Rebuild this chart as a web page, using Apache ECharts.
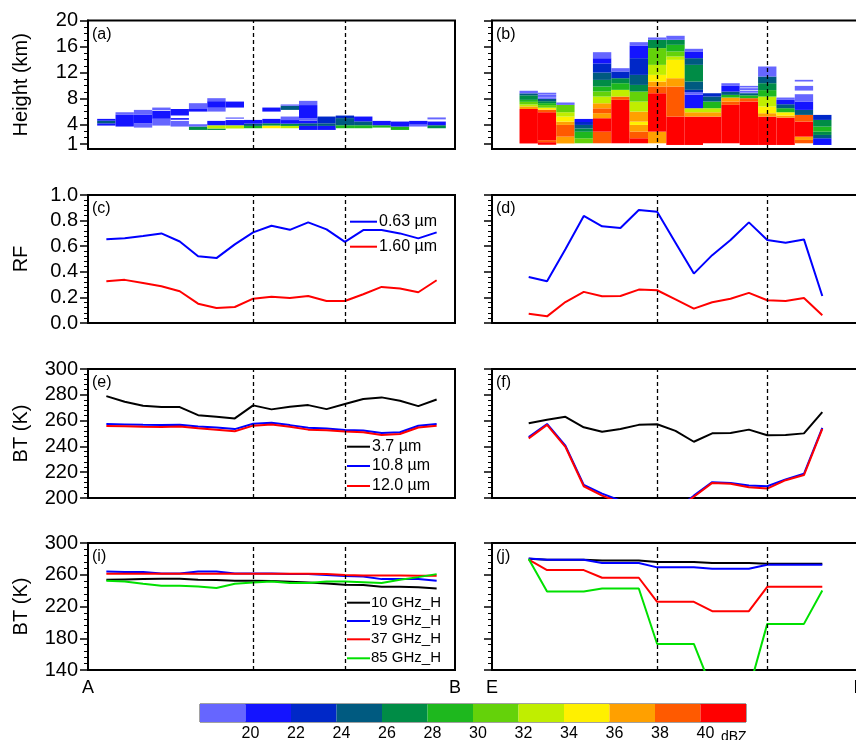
<!DOCTYPE html>
<html>
<head>
<meta charset="utf-8">
<script src="https://cdn.jsdelivr.net/npm/echarts@6/dist/echarts.min.js"></script>
<style>
  html, body { margin: 0; padding: 0; background: #fff; }
  #main { width: 856px; height: 740px; }
</style>
</head>
<body>
<div id="main"></div>
<script>
// ---------- data ----------
var dbzColors = ['#6666ff', '#1414ff', '#0028c8', '#005a80', '#008c46', '#1eb81e',
                 '#64d20a', '#c0ee00', '#fff000', '#ffa000', '#ff5a00', '#ff0000'];
var dbzEdges = [18, 20, 22, 24, 26, 28, 30, 32, 34, 36, 38, 40, 42];
var dbzLabels = [20, 22, 24, 26, 28, 30, 32, 34, 36, 38, 40];

var heightTicks = [1, 4, 8, 12, 16, 20];
var heightLabels = [4, 8, 12, 16, 20];
var heightLowLabel = [1];
var heightMinor = [2, 3, 5, 6, 7, 9, 10, 11, 13, 14, 15, 17, 18, 19];
var mwTicks = [140, 180, 220, 260, 300];
var mwMinor = [148, 156, 164, 172, 188, 196, 204, 212, 228, 236, 244, 252, 268, 276, 284, 292];

// profile cells: [column, bottom km, top km, colour class]
var profileA = [
  [0,3.85,4.2,1],[0,4.2,4.6,3],[0,4.6,4.88,1],
  [1,3.7,5.5,1],[1,5.5,5.9,0],
  [2,3.54,4.21,0],[2,4.21,5.5,1],[2,5.5,6.26,0],
  [3,3.85,4.9,0],[3,4.9,6.1,1],[3,6.2,6.62,0],
  [4,3.7,4.57,0],[4,4.75,5.0,1],[4,5.4,6.4,1],
  [5,3.18,3.7,4],[5,3.7,4.06,0],[5,6.0,6.5,1],[5,6.5,7.29,0],
  [6,3.18,3.4,4],[6,3.4,3.9,7],[6,3.9,4.57,1],[6,6.0,6.6,0],[6,6.6,7.6,1],[6,7.6,8.06,0],
  [7,3.4,3.9,7],[7,3.9,4.7,1],[7,4.9,5.1,0],[7,6.62,7.54,1],
  [8,3.44,3.8,5],[8,3.8,4.15,3],[8,4.15,4.72,1],
  [9,3.44,3.85,8],[9,3.85,4.2,4],[9,4.2,4.88,1],[9,6.0,6.62,1],
  [10,3.44,3.8,7],[10,3.8,4.15,4],[10,4.15,4.7,1],[10,4.7,5.24,0],[10,6.26,6.9,3],[10,6.9,7.1,0],
  [11,3.18,3.8,1],[11,3.8,4.2,3],[11,4.2,4.6,1],[11,4.6,5.0,0],[11,5.0,7.0,1],[11,7.0,7.65,0],
  [12,3.18,3.8,1],[12,3.8,4.2,3],[12,4.2,5.24,2],
  [13,3.44,3.9,5],[13,3.9,5.0,3],[13,5.0,5.39,2],
  [14,3.44,3.9,5],[14,3.9,4.5,3],[14,4.5,5.24,1],
  [15,3.54,3.9,5],[15,3.9,4.57,1],
  [16,3.18,3.7,5],[16,3.7,4.47,1],
  [17,3.7,4.0,0],[17,4.0,4.57,1],
  [18,3.44,3.9,4],[18,3.9,4.47,1],[18,4.8,5.1,0]
];
var profileB = [
  [0,1.1,6.4,11],[0,6.4,6.8,9],[0,6.8,7.1,7],[0,7.1,7.5,6],[0,7.5,7.8,5],[0,7.8,8.5,4],[0,8.5,8.8,3],[0,8.8,9.2,0],
  [1,0.9,1.3,11],[1,1.3,1.6,10],[1,1.6,5.9,11],[1,5.9,6.3,10],[1,6.3,6.6,8],[1,6.6,7.0,6],[1,7.0,7.3,5],[1,7.3,7.6,4],[1,7.6,7.95,3],[1,7.95,8.2,0],[1,8.3,8.5,1],[1,8.6,8.9,0],
  [2,1.1,2.15,9],[2,2.15,3.95,10],[2,3.95,4.46,9],[2,4.46,5.23,8],[2,5.23,5.9,7],[2,5.9,7.03,6],[2,7.03,7.4,0],
  [3,1.13,1.9,6],[3,1.9,2.9,5],[3,2.9,3.4,4],[3,3.4,3.95,3],[3,3.95,4.4,2],[3,4.4,4.87,1],
  [4,1.13,2.92,10],[4,2.92,4.98,11],[4,4.98,5.75,9],[4,5.75,6.5,10],[4,6.5,7.28,9],[4,7.28,8.31,7],[4,8.31,9.1,6],[4,9.1,9.85,5],[4,9.85,10.87,4],[4,10.87,12.0,3],[4,12.0,13.4,2],[4,13.4,14.2,1],[4,14.2,15.13,0],
  [5,1.13,7.8,11],[5,7.8,8.31,10],[5,8.31,9.34,7],[5,9.34,10.36,5],[5,10.36,11.13,4],[5,11.13,12.16,2],[5,12.16,12.67,0],
  [6,1.13,1.9,11],[6,1.9,2.92,10],[6,2.92,3.95,9],[6,3.95,4.46,8],[6,4.46,6.0,9],[6,6.0,7.54,7],[6,7.54,9.08,6],[6,9.08,10.1,4],[6,10.1,11.64,3],[6,11.64,14.21,2],[6,14.21,16.16,1],[6,16.16,16.67,0],
  [7,1.13,2.92,9],[7,2.92,8.82,11],[7,8.82,9.85,10],[7,9.85,10.62,9],[7,10.62,11.64,8],[7,11.64,13.18,7],[7,13.18,15.75,6],[7,15.75,17.03,4],[7,17.03,17.39,0],
  [8,0.87,5.23,11],[8,5.23,9.85,10],[8,9.85,11.13,9],[8,11.13,13.95,8],[8,13.95,14.47,7],[8,14.47,15.24,6],[8,15.24,16.26,5],[8,16.26,17.03,4],[8,17.03,17.65,0],
  [9,0.87,5.23,11],[9,5.23,5.9,9],[9,5.9,6.52,7],[9,6.52,8.6,1],[9,8.6,9.0,0],[9,9.0,9.34,2],[9,9.34,10.62,3],[9,10.62,13.18,4],[9,13.18,14.21,3],[9,14.21,15.24,1],[9,15.24,15.65,0],
  [10,1.13,5.23,11],[10,5.23,5.9,9],[10,5.9,6.52,7],[10,6.52,7.54,5],[10,7.54,8.31,3],[10,8.31,8.82,2],
  [11,1.13,7.03,11],[11,7.03,7.54,10],[11,7.54,8.16,9],[11,8.16,8.57,5],[11,8.57,9.08,3],[11,9.08,9.95,1],[11,9.95,10.36,0],
  [12,0.87,7.54,11],[12,7.54,8.06,10],[12,8.06,8.5,5],[12,8.5,8.82,3],[12,8.9,9.2,0],[12,9.3,9.6,0],[12,9.7,9.95,0],
  [13,0.87,5.23,11],[13,5.23,5.75,9],[13,5.75,6.77,8],[13,6.77,8.31,7],[13,8.31,9.3,5],[13,9.3,10.36,4],[13,10.36,11.39,3],[13,11.39,12.93,0],
  [14,0.87,5.08,11],[14,5.08,5.39,9],[14,5.39,5.9,8],[14,5.9,6.52,5],[14,6.52,7.13,3],[14,7.13,7.8,1],[14,7.8,8.16,0],
  [15,1.13,1.64,10],[15,1.64,2.15,9],[15,2.15,4.46,11],[15,4.46,5.49,10],[15,5.49,6.26,3],[15,6.26,7.54,1],[15,7.54,8.67,0],[15,9.23,9.95,0],[15,10.62,10.88,0],
  [16,0.87,1.9,1],[16,1.9,2.41,3],[16,2.41,2.92,4],[16,2.92,3.69,5],[16,3.69,4.72,4],[16,4.72,5.49,2]
];

var rfNames = ['0.63 \u00b5m', '1.60 \u00b5m'];
var rfLeft063 = [0.655,0.663,0.68,0.70,0.637,0.522,0.507,0.614,0.708,0.76,0.728,0.786,0.731,0.634,0.726,0.726,0.70,0.661,0.708];
var rfLeft160 = [0.326,0.337,0.313,0.287,0.248,0.151,0.117,0.125,0.19,0.206,0.196,0.211,0.172,0.172,0.225,0.282,0.269,0.24,0.334];
var rfRight063 = [0.36,0.326,0.577,0.836,0.755,0.742,0.883,0.869,0.627,0.386,0.53,0.648,0.786,0.648,0.627,0.653,0.211];
var rfRight160 = [0.073,0.052,0.164,0.243,0.209,0.211,0.261,0.256,0.185,0.112,0.162,0.19,0.235,0.178,0.172,0.196,0.06];

var irNames = ['3.7 \u00b5m', '10.8 \u00b5m', '12.0 \u00b5m'];
var irLeft37 = [279.0,274.6,271.5,270.5,270.5,264.2,263.0,261.7,271.8,268.7,270.7,272.0,268.9,272.8,276.7,278.0,275.4,271.2,276.4];
var irLeft108 = [257.3,257.0,256.7,256.5,256.7,255.4,254.7,253.4,257.5,258.3,256.5,254.4,253.9,252.8,252.3,250.3,251.0,256.0,257.3];
var irLeft120 = [255.8,255.6,255.3,255.1,255.4,254.0,253.0,251.8,256.1,257.0,255.2,253.0,252.6,251.5,251.0,248.8,249.6,254.7,256.0];
var irRight37 = [258.0,260.6,262.9,254.8,251.4,253.5,256.7,257.2,252.0,243.6,250.1,250.4,253.0,248.6,248.8,250.1,266.6];
var irRight108 = [247.3,257.4,240.5,210.2,203.4,198.0,192,190,191,201.8,212.3,211.7,209.7,209.1,214.4,218.8,254.3];
var irRight120 = [246.2,256.7,239.7,209.1,201.8,196.5,191,189,190,201.0,211.7,211.0,208.4,207.3,213.8,217.8,253.5];

var mwNames = ['10 GHz_H', '19 GHz_H', '37 GHz_H', '85 GHz_H'];
var mwLeft10 = [253.7,254.1,254.5,254.9,254.9,253.7,253.3,252.4,252.4,252.0,251.2,250.3,249.1,247.4,247.0,244.8,244.8,244.4,242.7];
var mwLeft19 = [264.2,263.4,263.4,261.7,261.7,264.2,264.2,261.7,261.7,261.7,260.8,260.8,259.6,258.3,257.9,254.5,254.5,254.5,252.4];
var mwLeft37 = [261.3,261.3,261.3,261.3,261.3,261.3,261.3,261.3,261.3,261.3,261.3,261.3,261.0,259.6,259.2,259.2,259.0,258.8,258.8];
var mwLeft85 = [252.4,251.6,248.6,246.1,246.1,245.3,243.2,248.6,250.3,251.6,249.5,249.5,251.6,251.6,250.7,249.5,253.7,257.0,260.8];
var mwRight10 = [280.2,279.0,279.0,279.0,278.1,278.1,278.1,276.0,276.0,276.0,274.7,274.7,274.7,273.9,273.9,273.9,273.9];
var mwRight19 = [280.6,279.0,279.0,279.0,274.7,274.7,274.7,269.3,269.3,269.3,267.6,267.6,267.6,272.6,272.6,272.6,272.6];
var mwRight37 = [279.0,265.9,265.9,265.9,256.2,256.2,256.2,225.9,225.9,225.9,214.1,214.1,214.1,244.8,244.8,244.8,244.8];
var mwRight85 = [279.8,238.9,238.9,238.9,242.7,242.7,242.7,172.8,172.8,172.8,115,115,115,198.1,198.1,198.1,240.2];

var dashLeft = [8, 13];
var dashRight = [7, 13];
var endLabels = [['A', 'B'], ['E', 'F']];

// ---------- layout ----------
var FONT = '"Liberation Sans", Arial, Helvetica, sans-serif';
var colX = [88, 492];
var panelW = 367;
var rowTop = [20.5, 195, 369, 543];
var rowH = [128.5, 128, 129, 127];
var xRange = [[-1, 19], [-2, 18]];
var tags = [['(a)', '(b)'], ['(c)', '(d)'], ['(e)', '(f)'], ['(i)', '(j)']];
var yNames = ['Height (km)', 'RF', 'BT (K)', 'BT (K)'];
var yScale = [
  {min: 0.25, max: 20, major: heightTicks, labels: heightLabels, minor: heightMinor, minorLabels: heightLowLabel},
  {min: 0, max: 1, interval: 0.2},
  {min: 200, max: 300, interval: 20},
  {min: 140, max: 300, major: mwTicks, labels: mwTicks, minor: mwMinor, minorLabels: []}
];

var chart = echarts.init(document.getElementById('main'));

var grids = [], xAxes = [], yAxes = [], series = [], graphics = [];

function dashLine(xs) {
  return {
    silent: true, symbol: ['none', 'none'], label: {show: false}, animation: false,
    lineStyle: {color: '#000', type: [4, 3], width: 1.3},
    data: xs.map(function (x) { return {xAxis: x}; })
  };
}

function lineSeries(name, values, color, gi, dashes) {
  var s = {
    type: 'line', name: name, xAxisIndex: gi, yAxisIndex: gi, silent: true,
    data: values.map(function (v, i) { return [i, v]; }),
    symbol: 'none', lineStyle: {color: color, width: 2}, itemStyle: {color: color}
  };
  if (dashes) s.markLine = dashLine(dashes);
  return s;
}

function renderCell(params, api) {
  var p0 = api.coord([api.value(0) - 0.5, api.value(2)]);
  var p1 = api.coord([api.value(0) + 0.5, api.value(1)]);
  return {
    type: 'rect',
    shape: {x: p0[0], y: p0[1], width: p1[0] - p0[0], height: p1[1] - p0[1]},
    style: {fill: dbzColors[api.value(3)]}
  };
}

function labelStyle(show) {
  return {show: show, color: '#000', fontSize: 20, lineHeight: 14, fontFamily: FONT, margin: 10};
}

for (var row = 0; row < 4; row++) {
  for (var col = 0; col < 2; col++) {
    var gi = row * 2 + col;
    var sc = yScale[row];
    grids.push({
      left: colX[col], top: rowTop[row], width: panelW, height: rowH[row],
      show: true, borderColor: '#000', borderWidth: 2, outerBoundsMode: 'none'
    });
    var xr = xRange[col];
    xAxes.push({
      gridIndex: gi, type: 'value', min: xr[0], max: xr[1],
      axisLine: {onZero: false, lineStyle: {color: '#000', width: 2}},
      axisTick: {show: false}, splitLine: {show: false},
      axisLabel: row === 3 ? {
        customValues: xr, color: '#000', fontSize: 18, fontFamily: FONT, margin: 9,
        formatter: (function (lbl, lo) { return function (v) { return v === lo ? lbl[0] : lbl[1]; }; })(endLabels[col], xr[0])
      } : {show: false}
    });
    var ya = {
      gridIndex: gi, type: 'value', min: sc.min, max: sc.max,
      axisLine: {show: true, onZero: false, lineStyle: {color: '#000', width: 2}},
      axisTick: {show: true, length: 8, lineStyle: {color: '#000', width: 1.5}},
      splitLine: {show: false},
      axisLabel: labelStyle(col === 0),
      name: col === 0 ? yNames[row] : '', nameLocation: 'middle', nameGap: 57,
      nameTextStyle: {color: '#000', fontSize: 20, fontFamily: FONT}
    };
    if (sc.major) {
      ya.axisTick.customValues = sc.major;
      ya.axisLabel.customValues = sc.labels;
      ya.axisLabel.showMinLabel = true;
      ya.axisLabel.showMaxLabel = true;
    } else {
      ya.interval = sc.interval;
      ya.minorTick = {show: true, splitNumber: 5, length: 4, lineStyle: {color: '#000', width: 1}};
      if (row === 1) ya.axisLabel.formatter = function (v) { return v.toFixed(1); };
    }
    yAxes.push(ya);
    graphics.push({
      type: 'text', x: colX[col] + 4, y: rowTop[row] + 6, silent: true,
      style: {text: tags[row][col], fill: '#000', fontSize: 16, fontFamily: FONT, textAlign: 'left', textVerticalAlign: 'top', align: 'left', verticalAlign: 'top'}
    });
  }
}

// colour bar grid (index 8)
grids.push({left: 200, top: 704, width: 546, height: 18, show: true, borderColor: '#444', borderWidth: 1, outerBoundsMode: 'none'});
xAxes.push({
  gridIndex: 8, type: 'value', min: dbzEdges[0], max: dbzEdges[dbzEdges.length - 1],
  axisLine: {show: false, onZero: false}, axisTick: {show: false}, splitLine: {show: false},
  axisLabel: {customValues: dbzLabels, color: '#000', fontSize: 16, fontFamily: FONT, margin: 4, padding: [0, 0, 0, 10]}
});
yAxes.push({gridIndex: 8, type: 'value', min: 0, max: 1, show: false});

// overlay grids for minor ticks (rows 0 and 3); row 0 also carries the lone "1" label
[0, 3].forEach(function (row) {
  for (var col = 0; col < 2; col++) {
    var idx = grids.length;
    var lab = labelStyle(col === 0 && yScale[row].minorLabels.length > 0);
    lab.customValues = yScale[row].minorLabels;
    grids.push({left: colX[col], top: rowTop[row], width: panelW, height: rowH[row], show: false, outerBoundsMode: 'none'});
    xAxes.push({gridIndex: idx, type: 'value', min: xRange[col][0], max: xRange[col][1], show: false});
    yAxes.push({
      gridIndex: idx, type: 'value', min: yScale[row].min, max: yScale[row].max,
      axisLine: {show: false, onZero: false}, axisLabel: lab, splitLine: {show: false},
      axisTick: {show: true, customValues: yScale[row].minor, length: 4, lineStyle: {color: '#000', width: 1}}
    });
  }
});

// row 1: reflectivity profiles
series.push({
  type: 'custom', name: 'profile A', xAxisIndex: 0, yAxisIndex: 0, silent: true,
  renderItem: renderCell, data: profileA, markLine: dashLine(dashLeft)
});
series.push({
  type: 'custom', name: 'profile B', xAxisIndex: 1, yAxisIndex: 1, silent: true,
  renderItem: renderCell, data: profileB, markLine: dashLine(dashRight)
});

// row 2: RF
series.push(lineSeries(rfNames[0], rfLeft063, '#0000ff', 2, dashLeft));
series.push(lineSeries(rfNames[1], rfLeft160, '#ff0000', 2));
series.push(lineSeries(rfNames[0], rfRight063, '#0000ff', 3, dashRight));
series.push(lineSeries(rfNames[1], rfRight160, '#ff0000', 3));

// row 3: IR BT
var irColors = ['#000000', '#0000ff', '#ff0000'];
[irLeft37, irLeft108, irLeft120].forEach(function (d, k) { series.push(lineSeries(irNames[k], d, irColors[k], 4, k === 0 ? dashLeft : null)); });
[irRight37, irRight108, irRight120].forEach(function (d, k) { series.push(lineSeries(irNames[k], d, irColors[k], 5, k === 0 ? dashRight : null)); });

// row 4: microwave BT
var mwColors = ['#000000', '#0000ff', '#ff0000', '#00e000'];
[mwLeft10, mwLeft19, mwLeft37, mwLeft85].forEach(function (d, k) { series.push(lineSeries(mwNames[k], d, mwColors[k], 6, k === 0 ? dashLeft : null)); });
[mwRight10, mwRight19, mwRight37, mwRight85].forEach(function (d, k) { series.push(lineSeries(mwNames[k], d, mwColors[k], 7, k === 0 ? dashRight : null)); });

// colour bar
series.push({
  type: 'custom', name: 'dBZ', xAxisIndex: 8, yAxisIndex: 8, silent: true,
  data: dbzColors.map(function (c, i) { return [dbzEdges[i], dbzEdges[i + 1], i]; }),
  renderItem: function (params, api) {
    var p0 = api.coord([api.value(0), 1]);
    var p1 = api.coord([api.value(1), 0]);
    return {type: 'rect', shape: {x: p0[0], y: p0[1], width: p1[0] - p0[0], height: p1[1] - p0[1]}, style: {fill: dbzColors[api.value(2)]}};
  }
});

// in-panel legends
function addLegend(names, colors, x1, x2, tx, ys, fs) {
  names.forEach(function (n, k) {
    graphics.push({type: 'line', silent: true, shape: {x1: x1, y1: ys[k], x2: x2, y2: ys[k]}, style: {stroke: colors[k], lineWidth: 2}});
    graphics.push({
      type: 'text', silent: true, x: tx, y: ys[k],
      style: {text: n, fill: '#000', fontSize: fs, fontFamily: FONT, textAlign: 'left', textVerticalAlign: 'middle', align: 'left', verticalAlign: 'middle'}
    });
  });
}
addLegend(rfNames, ['#0000ff', '#ff0000'], 350, 377, 379, [221.7, 246.7], 16);
addLegend(irNames, irColors, 347, 370, 372, [446.7, 466, 486], 16);
addLegend(mwNames, mwColors, 347, 370, 371, [602.7, 621, 639.3, 658.3], 15);

graphics.push({
  type: 'text', silent: true, x: 721, y: 737,
  style: {text: 'dBZ', fill: '#000', fontSize: 14, fontFamily: FONT, textAlign: 'left', textVerticalAlign: 'middle', align: 'left', verticalAlign: 'middle'}
});

chart.setOption({
  animation: false,
  backgroundColor: '#fff',
  textStyle: {fontFamily: FONT},
  grid: grids,
  xAxis: xAxes,
  yAxis: yAxes,
  series: series,
  graphic: graphics
});
</script>
</body>
</html>
